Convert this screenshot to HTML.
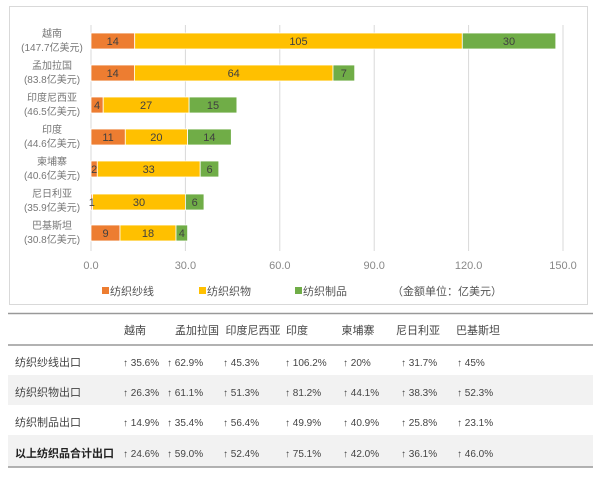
<!DOCTYPE html>
<html><head><meta charset="utf-8"><style>
body{margin:0;background:#fff;width:600px;height:473px;overflow:hidden;font-family:"Liberation Sans","Noto Sans CJK SC",sans-serif}
svg text{font-family:"Liberation Sans","Noto Sans CJK SC",sans-serif}
</style></head><body>
<svg width="600" height="473" viewBox="0 0 600 473" xmlns="http://www.w3.org/2000/svg">
<rect x="9.5" y="6.5" width="578" height="298" fill="#fff" stroke="#d9d9d9"/>
<g stroke="#d9d9d9" stroke-width="1">
<line x1="91" y1="25" x2="91" y2="251"/><line x1="185.4" y1="25" x2="185.4" y2="251"/>
<line x1="279.8" y1="25" x2="279.8" y2="251"/><line x1="374.2" y1="25" x2="374.2" y2="251"/>
<line x1="468.6" y1="25" x2="468.6" y2="251"/><line x1="563" y1="25" x2="563" y2="251"/>
</g>
<g font-size="11" fill="#888" text-anchor="middle">
<text x="91" y="269">0.0</text><text x="185.4" y="269">30.0</text><text x="279.8" y="269">60.0</text>
<text x="374.2" y="269">90.0</text><text x="468.6" y="269">120.0</text><text x="563" y="269">150.0</text>
</g>
<g font-size="10" fill="#777" text-anchor="middle">
<text x="52" y="37">越南</text><text x="52" y="51">(147.7亿美元)</text>
<text x="52" y="69">孟加拉国</text><text x="52" y="83">(83.8亿美元)</text>
<text x="52" y="101">印度尼西亚</text><text x="52" y="115">(46.5亿美元)</text>
<text x="52" y="133">印度</text><text x="52" y="147">(44.6亿美元)</text>
<text x="52" y="165">柬埔寨</text><text x="52" y="179">(40.6亿美元)</text>
<text x="52" y="197">尼日利亚</text><text x="52" y="211">(35.9亿美元)</text>
<text x="52" y="229">巴基斯坦</text><text x="52" y="243">(30.8亿美元)</text>
</g>
<g stroke="#fff" stroke-width="0.8">
<rect x="91" y="33" width="43.7" height="16" fill="#ed7d31"/><rect x="134.7" y="33" width="327.6" height="16" fill="#ffc000"/><rect x="462.3" y="33" width="93.5" height="16" fill="#70ad47"/>
<rect x="91" y="65" width="43.4" height="16" fill="#ed7d31"/><rect x="134.4" y="65" width="198.6" height="16" fill="#ffc000"/><rect x="333" y="65" width="21.7" height="16" fill="#70ad47"/>
<rect x="91" y="97" width="12.2" height="16" fill="#ed7d31"/><rect x="103.2" y="97" width="85.9" height="16" fill="#ffc000"/><rect x="189.1" y="97" width="47.8" height="16" fill="#70ad47"/>
<rect x="91" y="129" width="34.3" height="16" fill="#ed7d31"/><rect x="125.3" y="129" width="62.3" height="16" fill="#ffc000"/><rect x="187.6" y="129" width="43.7" height="16" fill="#70ad47"/>
<rect x="91" y="161" width="6.3" height="16" fill="#ed7d31"/><rect x="97.3" y="161" width="102.9" height="16" fill="#ffc000"/><rect x="200.2" y="161" width="18.6" height="16" fill="#70ad47"/>
<rect x="91" y="194" width="1.6" height="16" fill="#ed7d31"/><rect x="92.6" y="194" width="92.8" height="16" fill="#ffc000"/><rect x="185.4" y="194" width="18.6" height="16" fill="#70ad47"/>
<rect x="91" y="225" width="29" height="16" fill="#ed7d31"/><rect x="120" y="225" width="56" height="16" fill="#ffc000"/><rect x="176" y="225" width="11.6" height="16" fill="#70ad47"/>
</g>
<g font-size="11" fill="#404040" text-anchor="middle">
<text x="112.8" y="45">14</text><text x="298.5" y="45">105</text><text x="509" y="45">30</text>
<text x="112.7" y="77">14</text><text x="233.7" y="77">64</text><text x="343.8" y="77">7</text>
<text x="97.1" y="109">4</text><text x="146.1" y="109">27</text><text x="213" y="109">15</text>
<text x="108.1" y="141">11</text><text x="156.4" y="141">20</text><text x="209.4" y="141">14</text>
<text x="94.2" y="173">2</text><text x="148.7" y="173">33</text><text x="209.5" y="173">6</text>
<text x="91.8" y="206">1</text><text x="139" y="206">30</text><text x="194.7" y="206">6</text>
<text x="105.5" y="237">9</text><text x="148" y="237">18</text><text x="181.8" y="237">4</text>
</g>
<g font-size="11" fill="#555">
<rect x="102" y="287" width="7" height="7" fill="#ed7d31"/><text x="110" y="295">纺织纱线</text>
<rect x="199" y="287" width="7" height="7" fill="#ffc000"/><text x="207" y="295">纺织织物</text>
<rect x="295" y="287" width="7" height="7" fill="#70ad47"/><text x="303" y="295">纺织制品</text>
<text x="392" y="295">（金额单位：亿美元）</text>
</g>
<rect x="8" y="375" width="585" height="30" fill="#f2f2f2"/>
<rect x="8" y="435" width="585" height="32" fill="#f2f2f2"/>
<g stroke="#999" stroke-width="1.5">
<line x1="8" y1="313.5" x2="593" y2="313.5"/><line x1="8" y1="345" x2="593" y2="345"/><line x1="8" y1="467" x2="593" y2="467"/>
</g>
<g font-size="11" fill="#444" text-anchor="middle">
<text x="135" y="334">越南</text><text x="197" y="334">孟加拉国</text><text x="253" y="334">印度尼西亚</text>
<text x="297" y="334">印度</text><text x="358" y="334">柬埔寨</text><text x="418" y="334">尼日利亚</text><text x="478" y="334">巴基斯坦</text>
</g>
<g font-size="11" fill="#444">
<text x="15" y="366">纺织纱线出口</text><text x="15" y="396">纺织织物出口</text><text x="15" y="426">纺织制品出口</text>
<text x="15" y="457" font-weight="bold" fill="#222">以上纺织品合计出口</text>
</g>
<g font-size="10" fill="#444">
<text y="366"><tspan x="123">↑ 35.6%</tspan><tspan x="167">↑ 62.9%</tspan><tspan x="223">↑ 45.3%</tspan><tspan x="285">↑ 106.2%</tspan><tspan x="343">↑ 20%</tspan><tspan x="401">↑ 31.7%</tspan><tspan x="457">↑ 45%</tspan></text>
<text y="396"><tspan x="123">↑ 26.3%</tspan><tspan x="167">↑ 61.1%</tspan><tspan x="223">↑ 51.3%</tspan><tspan x="285">↑ 81.2%</tspan><tspan x="343">↑ 44.1%</tspan><tspan x="401">↑ 38.3%</tspan><tspan x="457">↑ 52.3%</tspan></text>
<text y="426"><tspan x="123">↑ 14.9%</tspan><tspan x="167">↑ 35.4%</tspan><tspan x="223">↑ 56.4%</tspan><tspan x="285">↑ 49.9%</tspan><tspan x="343">↑ 40.9%</tspan><tspan x="401">↑ 25.8%</tspan><tspan x="457">↑ 23.1%</tspan></text>
<text y="457"><tspan x="123">↑ 24.6%</tspan><tspan x="167">↑ 59.0%</tspan><tspan x="223">↑ 52.4%</tspan><tspan x="285">↑ 75.1%</tspan><tspan x="343">↑ 42.0%</tspan><tspan x="401">↑ 36.1%</tspan><tspan x="457">↑ 46.0%</tspan></text>
</g>
</svg>
</body></html>
